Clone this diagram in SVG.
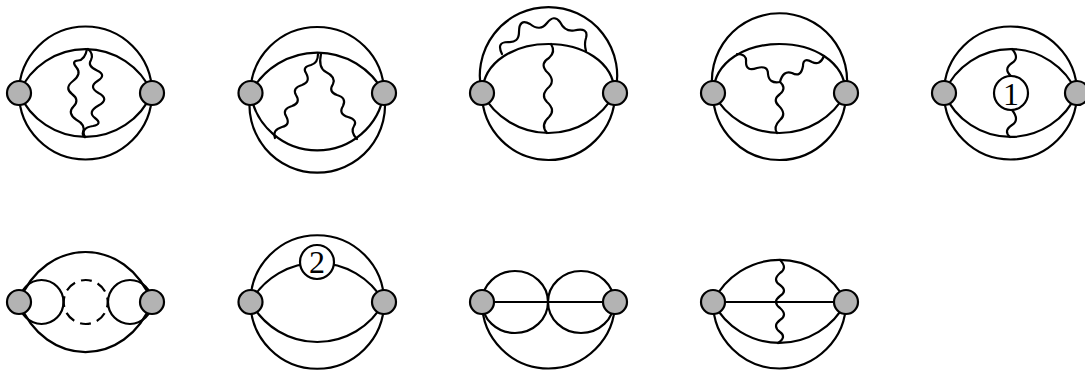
<svg xmlns="http://www.w3.org/2000/svg" width="1085" height="371" viewBox="0 0 1085 371">
<style>
.l{fill:none;stroke:#000;stroke-width:2.2}
.w{fill:none;stroke:#000;stroke-width:2.2;stroke-linecap:round}
.d{fill:none;stroke:#000;stroke-width:2.2;stroke-dasharray:11 6.28;stroke-dashoffset:5.5}
.v{fill:#b3b3b3;stroke:#000;stroke-width:2.2}
.c{fill:#fff;stroke:#000;stroke-width:2.2}
.t{font-family:"Liberation Serif","Times New Roman",serif;font-size:32px;text-anchor:middle;fill:#000}
</style>
<rect width="1085" height="371" fill="#fff"/>
<g id="connectors">
<g id="conn-1">
<path class="l" d="M19 93A66.500 66.500 0 0 1 152 93A66.500 66.500 0 0 1 19 93"/>
<path class="l" d="M19 93A72.300 72.300 0 0 1 152 93A72.300 72.300 0 0 1 19 93"/>
<path class="w" d="M87 49Q85 60 78 60.500Q71 61 76.500 67.500Q82 74 73 81Q64 88 72 94Q80 100 73.500 106.500Q67 113 76 119.500Q86 125 83 132Q82 135 85 137"/>
<path class="w" d="M88 49Q94 54 91 60Q87 66 97 70.500Q107 75 97.500 81Q88 87 98.500 93Q110 99 98.500 105.500Q87 112 95 118Q103 124 93 126Q80 128 85 137"/>
</g>
<g id="conn-2">
<path class="l" d="M250.500 93A66.750 66 0 0 1 384 93"/>
<path class="l" d="M250.500 93A67.800 67.800 0 1 0 384 93"/>
<path class="l" d="M250.500 93A75.300 75.300 0 0 1 384 93"/>
<path class="l" d="M250.500 93A67.500 67.500 0 0 0 384 93"/>
<path class="w" d="M318 54Q318 63 311 65Q302 67 306 73Q311 82 302 85Q292 88 296 95Q301 103 292 106Q282 109 286 116Q291 125 282 127Q272 130 275 138"/>
<path class="w" d="M321 54Q318 68 326 72Q336 77 333 84Q328 92 337 95Q347 98 343 106Q338 114 348 117Q358 120 354 126Q350 132 357 139"/>
</g>
<g id="conn-3">
<path class="l" d="M482 93A68.700 68.700 0 1 1 615 93"/>
<path class="l" d="M482 93A66.500 67 0 0 0 615 93"/>
<path class="l" d="M482 93C485 27.700 612 27.700 615 93"/>
<path class="l" d="M482 93A75.300 75.300 0 0 0 615 93"/>
<path class="w" d="M502 54Q496 42 508 42Q519 43 519 32Q519 18 530 24Q540 32 547 23Q554 14 560 22Q565 32 574 30.500Q589 27 586 38Q584 44 586 51"/>
<path class="w" d="M551 44Q556 52 549 58Q540 63 546 71Q556 80 549 87Q540 95 547 102Q556 110 549 117Q540 125 547 133"/>
</g>
<g id="conn-4">
<path class="l" d="M713 93A67.600 67.600 0 1 1 846 93"/>
<path class="l" d="M713 93A66.500 67 0 0 0 846 93"/>
<path class="l" d="M713 93C716 27.700 843 27.700 846 93"/>
<path class="l" d="M713 93A75.300 75.300 0 0 0 846 93"/>
<path class="w" d="M737 54Q747 54 746 62Q746 72 757 68Q768 65 768 74Q769 84 780 82"/>
<path class="w" d="M824 56Q820 66 812 62Q803 57 803 66Q801 78 792 73Q783 70 780 82"/>
<path class="w" d="M780 82Q787 88 780 94Q772 100 779 106Q787 114 780 120Q773 127 777 133"/>
</g>
<g id="conn-5">
<path class="l" d="M944 93A66.500 66.500 0 0 1 1077 93A66.500 66.500 0 0 1 944 93"/>
<path class="l" d="M944 93A72.300 72.300 0 0 1 1077 93A72.300 72.300 0 0 1 944 93"/>
<path class="w" d="M1012 49Q1020 58 1012 63Q1003 69 1011 76"/>
<path class="w" d="M1012 110Q1020 120 1012 125Q1003 131 1010 137"/>
</g>
<g id="conn-6">
<path class="l" d="M19 302C45 235.300 126 235.300 152 302C126 368.700 45 368.700 19 302"/>
<circle class="l" cx="41.500" cy="302" r="22"/>
<circle class="l" cx="130" cy="302" r="22"/>
<circle class="d" cx="85.700" cy="302" r="22"/>
</g>
<g id="conn-7">
<path class="l" d="M250.500 302A66.750 66.750 0 0 1 384 302A66.750 66.750 0 0 1 250.500 302"/>
<path class="l" d="M250.500 302A76.500 76.500 0 0 1 384 302"/>
<path class="l" d="M250.500 302A75.700 75.700 0 0 0 384 302"/>
</g>
<g id="conn-8">
<path class="l" d="M482 302A66.500 66.500 0 0 0 615 302"/>
<path class="l" d="M482 302H615"/>
<ellipse class="l" cx="515" cy="302" rx="33" ry="31"/>
<ellipse class="l" cx="581" cy="302" rx="33" ry="31"/>
</g>
<g id="conn-9">
<path class="l" d="M713 302A66.500 66.500 0 0 0 846 302"/>
<path class="l" d="M713 302H846"/>
<path class="l" d="M713 302A73.600 73.600 0 0 1 846 302"/>
<path class="l" d="M713 302A74.500 74.500 0 0 0 846 302"/>
<path class="w" d="M780 260Q788 268 780 273Q772 280 780 285Q788 291 780 296Q772 302 780 308Q788 315 780 320Q772 326 780 332Q787 337 778 343"/>
</g>
</g>
<g id="v1a"><circle class="v" cx="19" cy="93" r="12"/></g>
<g id="v1b"><circle class="v" cx="152" cy="93" r="12"/></g>
<g id="v2a"><circle class="v" cx="250.500" cy="93" r="12"/></g>
<g id="v2b"><circle class="v" cx="384" cy="93" r="12"/></g>
<g id="v3a"><circle class="v" cx="482" cy="93" r="12"/></g>
<g id="v3b"><circle class="v" cx="615" cy="93" r="12"/></g>
<g id="v4a"><circle class="v" cx="713" cy="93" r="12"/></g>
<g id="v4b"><circle class="v" cx="846" cy="93" r="12"/></g>
<g id="v5a"><circle class="v" cx="944" cy="93" r="12"/></g>
<g id="v5b"><circle class="v" cx="1077" cy="93" r="12"/></g>
<g id="v6a"><circle class="v" cx="19" cy="302" r="12"/></g>
<g id="v6b"><circle class="v" cx="152" cy="302" r="12"/></g>
<g id="v7a"><circle class="v" cx="250.500" cy="302" r="12"/></g>
<g id="v7b"><circle class="v" cx="384" cy="302" r="12"/></g>
<g id="v8a"><circle class="v" cx="482" cy="302" r="12"/></g>
<g id="v8b"><circle class="v" cx="615" cy="302" r="12"/></g>
<g id="v9a"><circle class="v" cx="713" cy="302" r="12"/></g>
<g id="v9b"><circle class="v" cx="846" cy="302" r="12"/></g>
<g id="insert-1"><circle class="c" cx="1011" cy="93" r="17"/><text class="t" x="1011" y="105">1</text></g>
<g id="insert-2"><circle class="c" cx="317" cy="262" r="17"/><text class="t" x="317" y="273">2</text></g>
</svg>
